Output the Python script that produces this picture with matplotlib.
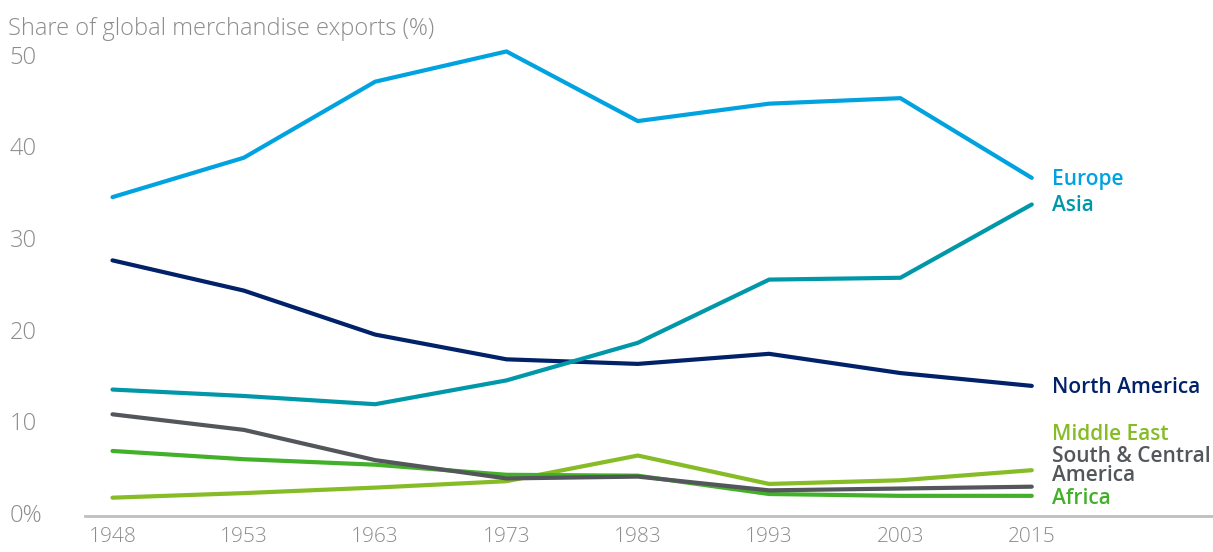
import matplotlib
matplotlib.use("Agg")
import matplotlib.pyplot as plt
import matplotlib.transforms as mtransforms

years = ["1948", "1953", "1963", "1973", "1983", "1993", "2003", "2015"]
europe = [34.8, 39.1, 47.4, 50.7, 43.1, 45.0, 45.6, 36.9]
asia = [13.8, 13.1, 12.2, 14.8, 18.9, 25.8, 26.0, 34.0]
north_america = [27.9, 24.6, 19.8, 17.1, 16.6, 17.7, 15.6, 14.2]
south_central_america = [11.1, 9.4, 6.1, 4.1, 4.3, 2.8, 3.0, 3.2]
africa = [7.1, 6.2, 5.6, 4.5, 4.4, 2.4, 2.2, 2.2]
middle_east = [2.0, 2.5, 3.1, 3.8, 6.6, 3.5, 3.9, 5.0]
y_ticks = [0, 10, 20, 30, 40, 50]
y_tick_labels = ["0%", "10", "20", "30", "40", "50"]
title = "Share of global merchandise exports (%)"

plt.rcParams['font.family'] = ['Open Sans', 'DejaVu Sans']

fig = plt.figure(figsize=(12.13, 5.52), dpi=100)
ax = fig.add_axes([0.07, 0.0652, 0.93, 0.83])

x = list(range(len(years)))
series = [
    ("Middle East", middle_east, "#86BC25", 9.0),
    ("Africa", africa, "#43B02A", 2.1),
    ("South & Central\nAmerica", south_central_america, "#53565A", 5.6),
    ("North America", north_america, "#012169", None),
    ("Asia", asia, "#0097A9", None),
    ("Europe", europe, "#00A3E0", None),
]
for name, vals, col, ly in series:
    ax.plot(x, vals, color=col, lw=3.0, solid_capstyle='round', clip_on=False, zorder=3)
    yy = vals[-1] if ly is None else ly
    ax.annotate(name, xy=(x[-1], yy), xytext=(14.5, -1), textcoords='offset points',
                ha='left', va='center', color=col, fontsize=15, fontweight='semibold',
                linespacing=0.92, annotation_clip=False)

ax.set_xlim(-0.21, 8.38)
ax.set_ylim(0, 50)
for s in ['top', 'right', 'left']:
    ax.spines[s].set_visible(False)
ax.spines['bottom'].set_color('#BFBFBF')
ax.spines['bottom'].set_linewidth(2)
ax.set_xticks(x)
ax.set_xticklabels(years, fontsize=15, color='#8C8C8C', fontweight='light')
ax.tick_params(axis='x', length=0, pad=8)
ax.set_yticks([])

trans = mtransforms.blended_transform_factory(fig.transFigure, ax.transData)
for v, lab in zip(y_ticks, y_tick_labels):
    ax.text(0.008, v, lab, transform=trans, ha='left', va='center',
            fontsize=17, color='#8C8C8C', fontweight='light')

fig.text(0.007, 0.948, title, ha='left', va='center', fontsize=17,
         color='#8C8C8C', fontweight='light')

fig.savefig("out.png", dpi=100)
